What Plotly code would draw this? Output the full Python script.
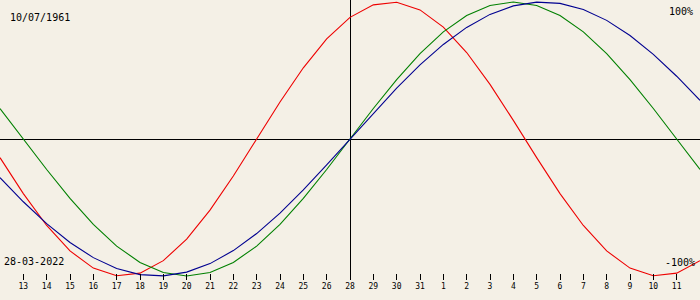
import plotly.graph_objects as go

# day offsets relative to the reference date (28-03-2022)
days = list(range(-15, 16))

# biorhythm values (-1..1), one per day
physical = [-0.1362, -0.3984, -0.6311, -0.8170, -0.9423, -0.9977, -0.9791, -0.8879,
            -0.7308, -0.5196, -0.2698, 0.0, 0.2698, 0.5196, 0.7308, 0.8879,
            0.9791, 0.9977, 0.9423, 0.8170, 0.6311, 0.3984, 0.1362, -0.1362,
            -0.3984, -0.6311, -0.8170, -0.9423, -0.9977, -0.9791, -0.8879]
emotional = [0.2225, 0.0, -0.2225, -0.4339, -0.6235, -0.7818, -0.9010, -0.9749,
             -1.0, -0.9749, -0.9010, -0.7818, -0.6235, -0.4339, -0.2225, 0.0,
             0.2225, 0.4339, 0.6235, 0.7818, 0.9010, 0.9749, 1.0, 0.9749,
             0.9010, 0.7818, 0.6235, 0.4339, 0.2225, 0.0, -0.2225]
intellectual = [-0.2817, -0.4582, -0.6182, -0.7557, -0.8660, -0.9450, -0.9898, -0.9989,
                -0.9718, -0.9096, -0.8146, -0.6901, -0.5406, -0.3717, -0.1893, 0.0,
                0.1893, 0.3717, 0.5406, 0.6901, 0.8146, 0.9096, 0.9718, 0.9989,
                0.9898, 0.9450, 0.8660, 0.7557, 0.6182, 0.4582, 0.2817]

tick_days = list(range(-14, 15))
tick_labels = ["13", "14", "15", "16", "17", "18", "19", "20", "21", "22", "23", "24",
               "25", "26", "28", "29", "30", "31", "1", "2", "3", "4", "5", "6", "7",
               "8", "9", "10", "11"]

birth_label = "10/07/1961"
date_label = "28-03-2022"

BG = "#f4f0e6"
MONO = "DejaVu Sans Mono"

fig = go.Figure()
fig.add_trace(go.Scatter(x=days, y=physical, mode="lines",
                         line=dict(color="#ee0000", width=1.1), name="Physical"))
fig.add_trace(go.Scatter(x=days, y=emotional, mode="lines",
                         line=dict(color="#008000", width=1.1), name="Emotional"))
fig.add_trace(go.Scatter(x=days, y=intellectual, mode="lines",
                         line=dict(color="#000090", width=1.1), name="Intellectual"))

fig.update_layout(
    width=700, height=300,
    margin=dict(l=0, r=0, t=0, b=20),
    paper_bgcolor=BG, plot_bgcolor=BG,
    showlegend=False,
    xaxis=dict(range=[-15, 15], tickvals=tick_days, ticktext=tick_labels,
               ticks="inside", ticklen=6, tickwidth=1, tickcolor="black",
               showgrid=False, showline=False,
               zeroline=True, zerolinecolor="black", zerolinewidth=1,
               tickfont=dict(family=MONO, size=8, color="black"),
               fixedrange=True),
    yaxis=dict(range=[-1.0292, 1.0146], showticklabels=False, ticks="",
               showgrid=False, showline=False,
               zeroline=True, zerolinecolor="black", zerolinewidth=1,
               fixedrange=True),
    annotations=[
        dict(text=birth_label, xref="paper", yref="paper", x=8/700, y=1-17/280,
             xanchor="left", yanchor="middle", showarrow=False,
             font=dict(family=MONO, size=10, color="black")),
        dict(text="100%", xref="paper", yref="paper", x=695/700, y=1-12/280,
             xanchor="right", yanchor="middle", showarrow=False,
             font=dict(family=MONO, size=10, color="black")),
        dict(text=date_label, xref="paper", yref="paper", x=2/700, y=1-261.5/280,
             xanchor="left", yanchor="middle", showarrow=False,
             font=dict(family=MONO, size=10, color="black")),
        dict(text="-100%", xref="paper", yref="paper", x=697/700, y=1-262/280,
             xanchor="right", yanchor="middle", showarrow=False,
             font=dict(family=MONO, size=10, color="black")),
    ],
)

fig.write_html("out.html", config={"displayModeBar": False})
